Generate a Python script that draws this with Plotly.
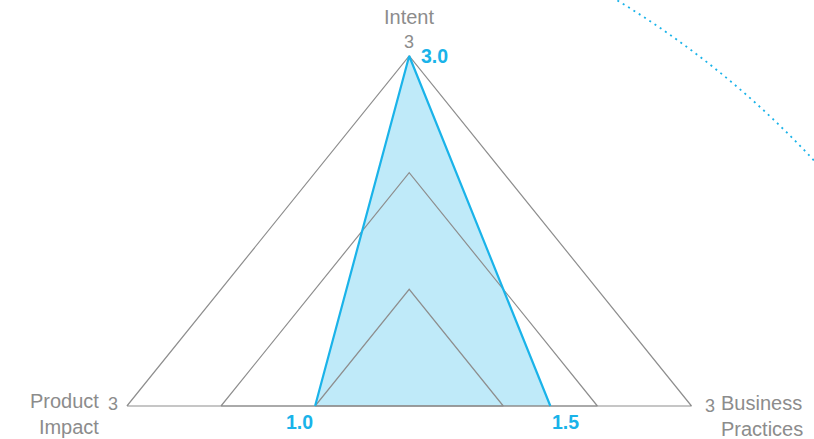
import plotly.graph_objects as go

# ---- data ----
axes_labels = ["Product<br>Impact", "Intent", "Business<br>Practices"]
scores = [1.0, 3.0, 1.5]          # Product Impact, Intent, Business Practices
grid_levels = [1, 2, 3]
max_level = 3

# ---- styling ----
CYAN = "#1ab3e9"
FILL = "rgba(26,179,233,0.28)"
GRID = "#8e8e8e"
TEXT = "#8c8c8c"
FONT = "Liberation Sans, Arial, Helvetica, sans-serif"

W, H = 814, 439
# pixel geometry of the coordinate system
CX, BASE = 409.2, 406.0
PX_PER_X = 94.1
PX_PER_Y = 116.67


def to_x(px):
    return (px - CX) / PX_PER_X


def to_y(py):
    return (BASE - py) / PX_PER_Y


def tri(left, top, right):
    # left axis goes to -x, top axis goes up, right axis goes to +x
    return [-left, 0, right], [0, top, 0]


fig = go.Figure()

# filled area of the score polygon (no outline on base)
fx, fy = tri(*scores)
fig.add_trace(go.Scatter(x=fx + [fx[0]], y=fy + [fy[0]], mode="lines", fill="toself",
                         fillcolor=FILL, line=dict(width=0, color=FILL),
                         hoverinfo="skip"))

# grid triangles
for lv in grid_levels:
    gx, gy = tri(lv, lv, lv)
    fig.add_trace(go.Scatter(x=gx + [gx[0]], y=gy + [gy[0]], mode="lines",
                             line=dict(color=GRID, width=1.2), hoverinfo="skip"))

# score outline (two upper edges)
fig.add_trace(go.Scatter(x=fx, y=fy, mode="lines",
                         line=dict(color=CYAN, width=2.2), hoverinfo="skip"))

lab = dict(size=20, color=TEXT, family=FONT)
tick = dict(size=18, color=TEXT, family=FONT)
bold = dict(size=19.5, color=CYAN, family=FONT, weight="bold")

ann = []
# axis titles
ann.append(dict(x=0, y=max_level, text="Intent", showarrow=False, xanchor="center",
                yanchor="middle", yshift=39, font=lab))
ann.append(dict(x=-max_level, y=0, text=axes_labels[0], showarrow=False, xanchor="right",
                yanchor="middle", xshift=-26, yshift=-8, align="right", font=lab))
ann.append(dict(x=max_level, y=0, text=axes_labels[2], showarrow=False, xanchor="left",
                yanchor="middle", xshift=27, yshift=-10, align="left", font=lab))
# max tick labels
ann.append(dict(x=0, y=max_level, text=str(max_level), showarrow=False, xanchor="center",
                yanchor="middle", yshift=14, font=tick))
ann.append(dict(x=-max_level, y=0, text=str(max_level), showarrow=False, xanchor="right",
                yanchor="middle", xshift=-7, yshift=2, font=tick))
ann.append(dict(x=max_level, y=0, text=str(max_level), showarrow=False, xanchor="left",
                yanchor="middle", xshift=11, yshift=0, font=tick))
# score labels
ann.append(dict(x=0, y=scores[1], text=f"<b>{scores[1]:.1f}</b>", showarrow=False,
                xanchor="left", yanchor="middle", xshift=10, yshift=0, font=bold))
ann.append(dict(x=-scores[0], y=0, text=f"<b>{scores[0]:.1f}</b>", showarrow=False,
                xanchor="right", yanchor="middle", xshift=0, yshift=-16, font=bold))
ann.append(dict(x=scores[2], y=0, text=f"<b>{scores[2]:.1f}</b>", showarrow=False,
                xanchor="left", yanchor="middle", xshift=0, yshift=-16, font=bold))

# decorative dotted arc (large circle partly in view)
ccx, ccy, cr = 146, 780, 911
shapes = [dict(type="circle", xref="x", yref="y",
               x0=to_x(ccx - cr), x1=to_x(ccx + cr),
               y0=to_y(ccy + cr), y1=to_y(ccy - cr),
               line=dict(color=CYAN, width=1.8, dash="2px,4.3px"), layer="below")]

fig.update_layout(
    width=W, height=H, margin=dict(l=0, r=0, t=0, b=0),
    paper_bgcolor="white", plot_bgcolor="white", showlegend=False,
    xaxis=dict(range=[to_x(0), to_x(W)], visible=False, fixedrange=True),
    yaxis=dict(range=[to_y(H), to_y(0)], visible=False, fixedrange=True),
    annotations=ann, shapes=shapes,
)

fig.write_html("out.html")
